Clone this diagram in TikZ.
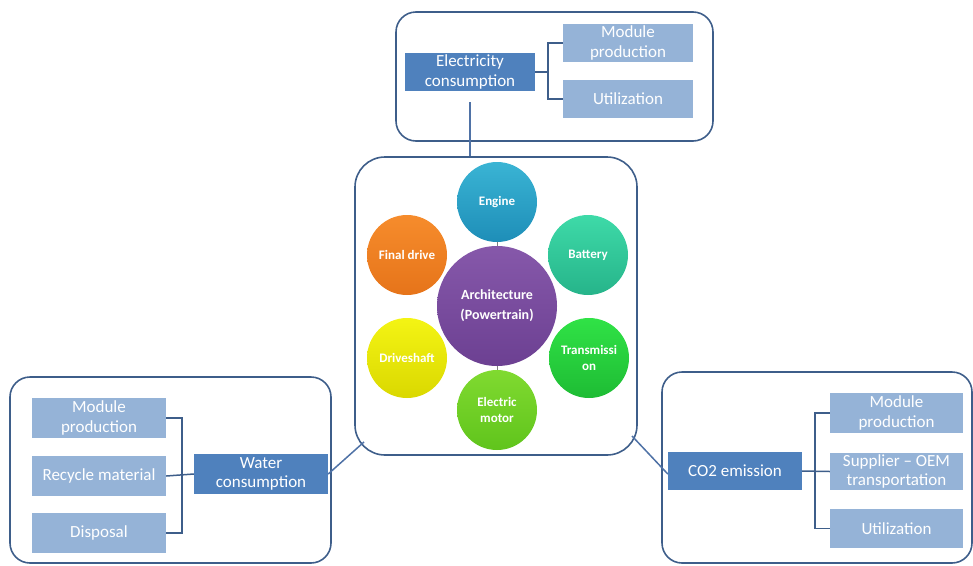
\documentclass[tikz,border=0pt]{standalone}
\usepackage{fontspec}
\setmainfont{Carlito}
\definecolor{groupline}{RGB}{62,94,138}
\definecolor{linkline}{RGB}{79,114,166}
\definecolor{darkbox}{RGB}{79,129,189}
\definecolor{lightbox}{RGB}{149,179,215}

\tikzset{
  group/.style={draw=groupline,line width=1.6pt,rounded corners=20pt,inner sep=0pt},
  mainbox/.style={fill=darkbox,text=white,minimum width=130pt,minimum height=38pt,
    inner sep=0pt,align=center,font=\fontsize{17}{19.5}\selectfont},
  subbox/.style={mainbox,fill=lightbox,minimum width=133pt,minimum height=40pt},
  part/.style={circle,minimum size=80pt,inner sep=1pt,text=white,align=center,
    font=\bfseries\fontsize{13}{16}\selectfont},
  link/.style={draw=linkline,line width=1.5pt},
  bracket/.style={draw=groupline,line width=1.5pt}
}

\begin{document}
\begin{tikzpicture}[x=1pt,y=-1pt]
\useasboundingbox (0,0) rectangle (973,565);

% the three outer groups and the centre
\node [group,minimum width=317pt,minimum height=129pt] (elecgroup) at (554.5,76.5) {};
\node [group,minimum width=321pt,minimum height=186pt] (watergroup) at (170.5,470) {};
\node [group,minimum width=310pt,minimum height=191pt] (co2group) at (817,467.5) {};
\node [group,rounded corners=30pt,minimum width=282pt,minimum height=298pt] (cbox) at (496,306) {};

% electricity
\node [mainbox] (elec) at (470,72) {Electricity\\consumption};
\node [subbox,minimum width=130pt,minimum height=38pt] (emod) at (628,43) {Module\\production};
\node [subbox,minimum width=130pt,minimum height=38pt] (eutil) at (628,99) {Utilization};
\draw [bracket] (elec.east) -- ++(13,0);
\draw [bracket] (emod.west) -- ++(-15,0) |- (eutil.west);

% water
\node [mainbox,minimum width=134pt,minimum height=40pt] (water) at (261,474) {Water\\consumption};
\node [subbox,minimum width=134pt] (wmod) at (99,418) {Module\\production};
\node [subbox,minimum width=134pt] (wrec) at (99,476) {Recycle material};
\node [subbox,minimum width=134pt] (wdisp) at (99,533) {Disposal};
\draw [bracket] (wmod.east) -- ++(16,0) |- (wdisp.east);
\draw [bracket] (wrec.east) -- (water.west);

% co2
\node [mainbox,minimum width=134pt] (co2) at (735,471) {CO2 emission};
\node [subbox] (cmod) at (896.5,413) {Module\\production};
\node [subbox,minimum height=37pt] (csup) at (896.5,471.5) {Supplier – OEM\\transportation};
\node [subbox,minimum height=39pt] (cutil) at (896.5,528.5) {Utilization};
\draw [bracket] (cmod.west) -- ++(-15,0) |- (cutil.west);
\draw [bracket] (co2.east) -- (csup.west);

% links to the centre
\coordinate (ctop) at (470,102);
\coordinate (cleft) at (364,442);
\coordinate (cright) at (632,436);
\draw [link] (ctop) -- (ctop |- cbox.north);
\draw [link] (water.east) -- (cleft);
\draw [link] (cright) -- ([yshift=-3pt]co2.west);

% powertrain parts
\node [part,minimum size=120pt,top color={rgb,255:red,134;green,88;blue,170},
  bottom color={rgb,255:red,108;green,64;blue,146},font=\bfseries\fontsize{14}{20}\selectfont]
  (arch) at (497,306) {Architecture\\(Powertrain)};
\node [part,top color={rgb,255:red,58;green,180;blue,212},bottom color={rgb,255:red,30;green,142;blue,184}]
  (engine) at (497,202) {Engine};
\node [part,top color={rgb,255:red,62;green,218;blue,168},bottom color={rgb,255:red,38;green,180;blue,138}]
  (battery) at (588,255) {Battery};
\node [part,top color={rgb,255:red,48;green,226;blue,70},bottom color={rgb,255:red,30;green,188;blue,52}]
  (trans) at (589,358) {Transmissi\\on};
\node [part,top color={rgb,255:red,128;green,218;blue,48},bottom color={rgb,255:red,96;green,196;blue,28}]
  (motor) at (497,410) {Electric\\motor};
\node [part,top color={rgb,255:red,244;green,244;blue,20},bottom color={rgb,255:red,218;green,216;blue,0}]
  (shaft) at (407,358) {Driveshaft};
\node [part,top color={rgb,255:red,246;green,140;blue,44},bottom color={rgb,255:red,230;green,116;blue,26}]
  (final) at (407,255) {Final drive};
\draw [gray,thin] (engine) -- (arch);
\draw [gray,thin] (arch) -- (motor);
\end{tikzpicture}
\end{document}
